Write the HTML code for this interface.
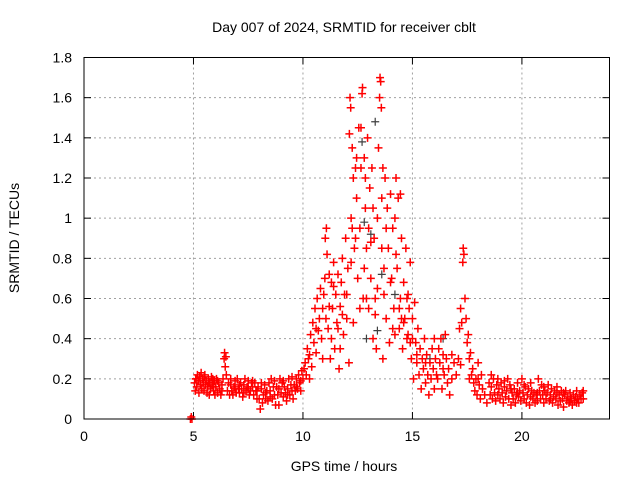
<!DOCTYPE html>
<html><head><meta charset="utf-8"><style>
body{margin:0;background:#fff;}
svg{display:block;font-family:"Liberation Sans",sans-serif;}
</style></head><body>
<svg id="chart" width="640" height="480"></svg>
<script>
const xTicks=[0,5,10,15,20];
const yTicks=[0,0.2,0.4,0.6,0.8,1,1.2,1.4,1.6,1.8];
const yTickLabels=["0","0.2","0.4","0.6","0.8","1","1.2","1.4","1.6","1.8"];
// red series as [hour, TECU] pairs
const quietPoints=[
[4.86,0],[4.9,0.01],[4.93,0],
[5.05,0.18],[5.08,0.14],[5.12,0.2],[5.15,0.16],[5.18,0.22],[5.22,0.19],[5.25,0.13],[5.28,0.21],[5.32,0.17],[5.35,0.23],
[5.38,0.15],[5.42,0.2],[5.45,0.18],[5.48,0.14],[5.52,0.22],[5.55,0.17],[5.58,0.19],[5.62,0.13],[5.65,0.16],[5.68,0.2],
[5.72,0.12],[5.75,0.18],[5.78,0.15],[5.82,0.21],[5.85,0.17],[5.88,0.2],[5.92,0.14],[5.95,0.19],[5.98,0.12],[6.02,0.16],
[6.05,0.2],[6.1,0.13],[6.15,0.18],[6.2,0.15],[6.25,0.12],[6.3,0.17],[6.35,0.2],[6.4,0.3],[6.42,0.33],[6.45,0.26],[6.48,0.31],[6.5,0.22],[6.55,0.14],
[6.6,0.18],[6.65,0.12],[6.7,0.17],[6.75,0.14],[6.8,0.12],[6.85,0.16],[6.9,0.19],[6.95,0.13],[7.0,0.2],[7.05,0.15],[7.1,0.13],
[7.15,0.18],[7.2,0.15],[7.25,0.11],[7.3,0.17],[7.35,0.2],[7.4,0.14],[7.45,0.16],[7.5,0.19],[7.55,0.12],[7.6,0.14],[7.65,0.18],
[7.7,0.16],[7.75,0.12],[7.8,0.18],[7.85,0.14],[7.9,0.1],[7.95,0.16],[8.0,0.1],[8.05,0.05],[8.1,0.15],[8.15,0.08],[8.2,0.12],
[8.25,0.17],[8.3,0.1],[8.35,0.14],[8.4,0.09],[8.45,0.18],[8.5,0.14],[8.55,0.2],[8.6,0.1],[8.65,0.16],[8.7,0.12],[8.75,0.07],
[8.8,0.16],[8.85,0.12],[8.9,0.07],[8.95,0.2],[9.0,0.13],[9.05,0.18],[9.1,0.11],[9.15,0.16],[9.2,0.13],[9.25,0.09],[9.3,0.15],
[9.35,0.2],[9.4,0.12],[9.45,0.17],[9.5,0.14],[9.55,0.1],[9.6,0.17],[9.65,0.14],[9.7,0.2],[9.75,0.15],[9.8,0.22],[9.85,0.18],
[9.9,0.19],[9.95,0.24],[10.0,0.2],
[5.1,0.2],[5.3,0.19],[5.5,0.21],[5.7,0.18],[5.9,0.16],[6.1,0.19],[6.3,0.14],[6.7,0.2],[6.9,0.15],[7.1,0.17],[7.3,0.13],[7.5,0.15],
[7.7,0.19],[7.9,0.14],[8.1,0.18],[8.3,0.13],[8.5,0.11],[8.7,0.19],[8.9,0.15],[9.1,0.19],[9.3,0.12],[9.5,0.21],[9.7,0.16],[9.9,0.14]];
const stormPoints=[
[10.05,0.25],[10.1,0.28],[10.15,0.22],[10.2,0.35],[10.25,0.3],[10.3,0.2],[10.35,0.42],[10.4,0.26],[10.45,0.48],[10.5,0.38],
[10.55,0.55],[10.6,0.33],[10.65,0.6],[10.7,0.44],[10.75,0.5],[10.8,0.65],[10.85,0.4],[10.9,0.55],[10.95,0.62],[11.0,0.7],
[11.02,0.9],[11.05,0.5],[11.07,0.95],[11.1,0.82],[11.15,0.45],[11.2,0.72],[11.25,0.3],[11.3,0.68],[11.35,0.55],[11.4,0.78],
[11.45,0.35],[11.5,0.62],[11.55,0.48],[11.6,0.72],[11.65,0.25],[11.7,0.56],[11.75,0.68],[11.8,0.8],[11.85,0.42],[11.9,0.62],
[11.95,0.9],[12.0,0.5],[12.05,0.75],[12.1,0.28],[12.12,1.42],[12.15,1.6],[12.18,1.55],[12.2,1.0],[12.25,1.35],[12.3,1.2],
[12.35,0.85],[12.4,1.25],[12.45,1.1],[12.5,0.7],[12.55,1.45],[12.6,0.95],[12.65,1.25],[12.7,1.62],[12.72,1.65],[12.75,0.6],
[12.8,1.3],[12.85,1.05],[12.9,0.85],[12.95,1.4],[13.0,0.55],[13.05,1.15],[13.1,0.7],[13.15,1.25],[13.2,0.4],[13.25,0.9],
[13.3,0.6],[13.35,0.35],[13.4,1.0],[13.5,1.6],[13.52,1.7],[13.55,1.68],[13.58,1.55],[13.6,1.1],[13.65,0.3],[13.7,0.75],
[13.75,1.2],[13.8,0.5],[13.85,1.05],[13.9,0.85],[13.95,0.38],[14.0,1.12],[14.05,0.7],[14.1,0.95],[14.15,0.55],[14.2,0.42],
[14.25,0.82],[14.3,0.75],[14.35,1.1],[14.4,0.45],[14.45,0.6],[14.5,0.9],[14.55,0.35],[14.6,0.68],[14.65,0.5],[14.7,0.85],
[14.75,0.4],[14.8,0.62],[14.85,0.55],[14.9,0.78],[14.95,0.3],[15.0,0.5],[15.05,0.2],[15.1,0.58],[15.15,0.38],[15.2,0.28],
[15.25,0.45],[15.3,0.22],[15.35,0.35],[15.4,0.15],[15.45,0.3],[15.5,0.25],[15.55,0.4],[15.6,0.18],[15.65,0.32],[15.7,0.22],
[15.75,0.12],[15.8,0.28],[15.85,0.2],[15.9,0.35],[15.95,0.25],[16.0,0.15],[16.05,0.3],[16.1,0.22],[16.15,0.2],[16.2,0.35],
[16.25,0.28],[16.3,0.4],[16.35,0.15],[16.4,0.32],[16.45,0.22],[16.5,0.42],[16.55,0.3],[16.6,0.18],[16.65,0.25],[16.7,0.12],
[16.8,0.2],[16.9,0.28],[17.0,0.22],[17.1,0.3],[17.15,0.45],[17.2,0.55],[17.25,0.48],[17.3,0.78],[17.32,0.85],[17.35,0.82],
[17.4,0.6],[17.45,0.5],[17.5,0.38],[17.55,0.42],[17.6,0.3],[17.65,0.33],[17.7,0.22],[17.75,0.25],[17.8,0.18],[17.85,0.14],
[17.9,0.2],[17.95,0.12],[18.0,0.28],[18.05,0.17],[18.1,0.1],[18.15,0.22],[18.2,0.15],[18.3,0.12],[18.4,0.08],
[11.2,0.56],[11.4,0.66],[11.6,0.45],[11.8,0.52],[12.0,0.62],[12.2,0.78],[12.4,0.9],[12.6,0.55],[12.8,0.75],[13.0,0.95],
[13.2,1.05],[13.4,0.65],[13.6,0.85],[13.8,0.95],[14.0,0.68],[14.2,1.0],[14.4,0.55],[14.6,0.48],[14.8,0.42],[15.0,0.4],
[10.3,0.32],[10.6,0.45],[10.9,0.3],[11.3,0.4],[11.7,0.35],[12.3,0.48],[12.9,0.6],[13.3,0.52],[13.7,0.62],[14.1,0.45],
[14.5,0.5],[14.9,0.38],[15.2,0.32],[15.6,0.28],[16.0,0.4],[16.4,0.25],[16.8,0.32],[17.2,0.27],[17.6,0.2],[18.0,0.2],
[12.45,1.3],[12.65,1.45],[12.85,1.2],[13.45,1.35],[13.65,1.25],[14.25,1.2],[14.45,1.12],[12.25,0.95],[13.1,0.88],[14.75,0.6]];
const tailPoints=[
[18.5,0.18],[18.55,0.12],[18.6,0.16],[18.65,0.1],[18.7,0.2],[18.75,0.13],[18.8,0.09],[18.85,0.17],[18.9,0.12],[18.95,0.15],
[19.0,0.1],[19.05,0.18],[19.1,0.13],[19.15,0.08],[19.2,0.16],[19.25,0.11],[19.3,0.14],[19.35,0.2],[19.4,0.1],[19.45,0.17],
[19.5,0.07],[19.55,0.13],[19.6,0.1],[19.65,0.15],[19.7,0.08],[19.75,0.12],[19.8,0.18],[19.85,0.11],[19.9,0.14],[19.95,0.09],
[20.0,0.2],[20.05,0.13],[20.1,0.1],[20.15,0.16],[20.2,0.08],[20.25,0.12],[20.3,0.15],[20.35,0.07],[20.4,0.11],[20.45,0.14],
[20.5,0.1],[20.55,0.13],[20.6,0.08],[20.65,0.12],[20.7,0.09],[20.75,0.2],[20.8,0.14],[20.85,0.1],[20.9,0.17],[20.95,0.12],
[21.0,0.08],[21.05,0.14],[21.1,0.1],[21.15,0.13],[21.2,0.17],[21.25,0.09],[21.3,0.12],[21.35,0.15],[21.4,0.08],[21.45,0.11],
[21.5,0.14],[21.55,0.1],[21.6,0.13],[21.65,0.07],[21.7,0.12],[21.75,0.09],[21.8,0.14],[21.85,0.1],[21.9,0.06],[21.95,0.12],
[22.0,0.14],[22.05,0.09],[22.1,0.11],[22.15,0.08],[22.2,0.13],[22.25,0.1],[22.3,0.07],[22.35,0.12],[22.4,0.09],[22.45,0.11],
[22.5,0.14],[22.55,0.1],[22.6,0.08],[22.65,0.12],[22.7,0.1],[22.75,0.13],[22.8,0.14],
[18.6,0.22],[18.9,0.2],[19.2,0.19],[19.5,0.15],[19.8,0.13],[20.1,0.17],[20.4,0.18],[20.7,0.13],[21.0,0.16],[21.3,0.1],
[21.6,0.16],[21.9,0.13],[22.2,0.09],[22.5,0.08],[22.8,0.1]];
const grayPoints=[[12.8,0.98],[13.3,1.48],[13.6,0.72],[13.4,0.44],[12.9,0.4],[14.2,0.62],[13.1,0.92],[15.8,0.3],[16.4,0.4],[12.7,1.38]];

const svg=document.getElementById('chart');
const NS='http://www.w3.org/2000/svg';
const L=84,R=609.5,T=57.5,B=419;
const X=v=>L+v/24*(R-L);
const Y=v=>B-v/1.8*(B-T);
function mk(tag,attrs,parent){const e=document.createElementNS(NS,tag);for(const k in attrs)e.setAttribute(k,attrs[k]);(parent||svg).appendChild(e);return e;}
const grid=mk('g',{});


xTicks.forEach(t=>{if(t>0){const l=mk('line',{x1:X(t),x2:X(t),y1:T,y2:B,stroke:'#a0a0a0','stroke-dasharray':'2,3'},grid);

}});
yTicks.forEach(t=>{if(t>0&&t<1.8){const l=mk('line',{x1:L,x2:R,y1:Y(t),y2:Y(t),stroke:'#a0a0a0','stroke-dasharray':'2,3'},grid);

}});
const ax=mk('g',{stroke:'#000','stroke-width':1});


xTicks.forEach(t=>{mk('line',{x1:X(t),x2:X(t),y1:B,y2:B-7},ax);mk('line',{x1:X(t),x2:X(t),y1:T,y2:T+7},ax);
 const tx=mk('text',{x:X(t),y:B+22,'text-anchor':'middle','font-size':14,fill:'#000',stroke:'none'},ax);tx.textContent=t;
 
 });
yTicks.forEach((t,i)=>{mk('line',{x1:L,x2:L+7,y1:Y(t),y2:Y(t)},ax);mk('line',{x1:R,x2:R-7,y1:Y(t),y2:Y(t)},ax);
 const tx=mk('text',{x:L-12,y:Y(t)+5,'text-anchor':'end','font-size':14,fill:'#000',stroke:'none'},ax);tx.textContent=yTickLabels[i];
 
 });
function plus(p,g,name){const x=X(p[0]),y=Y(p[1]);const e=mk('path',{d:`M${x-4},${y}h8M${x},${y-4}v8`},g);
 
 }
const gs=mk('g',{stroke:'#404040','stroke-width':1.2});


grayPoints.forEach(p=>plus(p,gs,'gray-point'));
const rs=mk('g',{stroke:'#ff0000','stroke-width':1.5});


quietPoints.concat(stormPoints,tailPoints).forEach(p=>plus(p,rs,'red-point'));
const fr=mk('rect',{x:L,y:T,width:R-L,height:B-T,fill:'none',stroke:'#000'});


const ti=mk('text',{x:344,y:32,'text-anchor':'middle','font-size':14});ti.textContent='Day 007 of 2024, SRMTID for receiver cblt';


const xt=mk('text',{x:344,y:471,'text-anchor':'middle','font-size':14});xt.textContent='GPS time / hours';


const yt=mk('text',{x:19,y:238,'text-anchor':'middle','font-size':14,transform:'rotate(-90 19 238)'});yt.textContent='SRMTID / TECUs';


</script>
</body></html>
